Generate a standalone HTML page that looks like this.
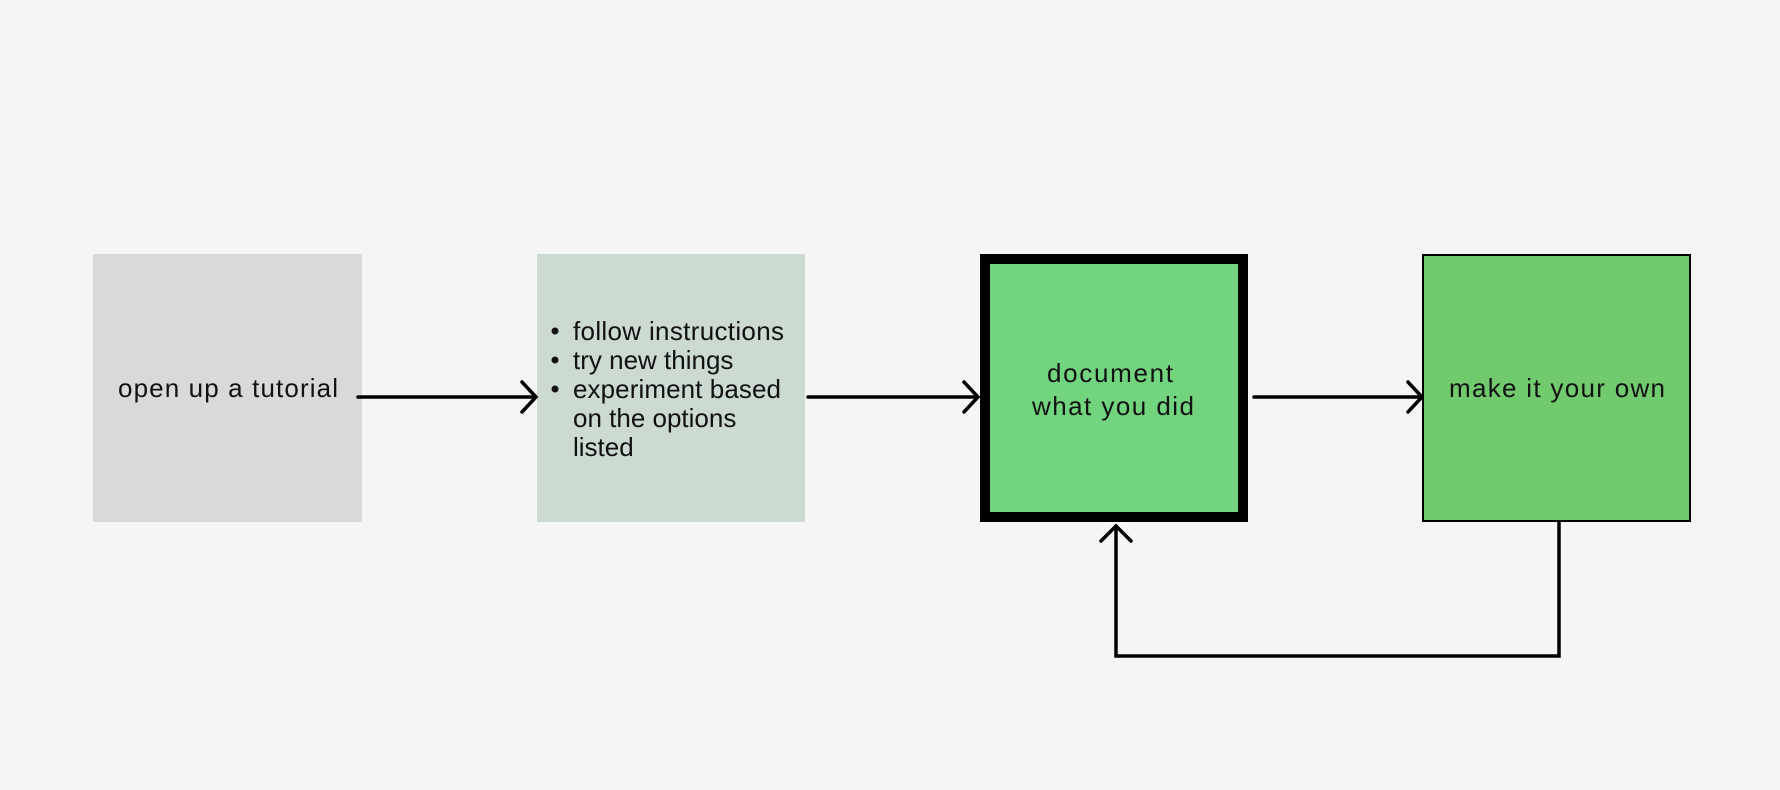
<!DOCTYPE html>
<html><head><meta charset="utf-8"><style>
html,body{margin:0;padding:0;background:#f5f5f5;}
svg{display:block}
text{font-family:"Liberation Sans",sans-serif;font-size:26px;fill:#111}
</style></head><body>
<svg width="1780" height="790" viewBox="0 0 1780 790" xmlns="http://www.w3.org/2000/svg">
<rect width="1780" height="790" fill="#f5f5f5"/>
<rect x="93" y="254" width="269" height="268" fill="#d9d9d9"/>
<rect x="537" y="254" width="268" height="268" fill="#ccdad2"/>
<rect x="985" y="259" width="258" height="258" fill="#72d47e" stroke="#000" stroke-width="10"/>
<rect x="1423" y="255" width="267" height="266" fill="#71ca6e" stroke="#000" stroke-width="2"/>
<text x="228" y="397" text-anchor="middle" textLength="220">open up a tutorial</text>
<g>
<circle cx="555" cy="331" r="3.5" fill="#111"/>
<circle cx="555" cy="360" r="3.5" fill="#111"/>
<circle cx="555" cy="389" r="3.5" fill="#111"/>
<text x="573" y="340" textLength="211">follow instructions</text>
<text x="573" y="369">try new things</text>
<text x="573" y="398" textLength="208">experiment based</text>
<text x="573" y="427">on the options</text>
<text x="573" y="456">listed</text>
</g>
<text x="1110" y="382" text-anchor="middle" textLength="126">document</text>
<text x="1113" y="415" text-anchor="middle" textLength="162">what you did</text>
<text x="1557" y="397" text-anchor="middle" textLength="216">make it your own</text>
<g fill="none" stroke="#000" stroke-width="3.5" stroke-linecap="round" stroke-linejoin="miter">
<line x1="358" y1="397" x2="535" y2="397"/>
<polyline points="522,382 536,397 522,412"/>
<line x1="808" y1="397" x2="977" y2="397"/>
<polyline points="964,382 978,397 964,412"/>
<line x1="1254" y1="397" x2="1421" y2="397"/>
<polyline points="1408,382 1422,397 1408,412"/>
<polyline points="1559,522 1559,656 1116,656 1116,527"/>
<polyline points="1101,541 1116,526 1131,541"/>
</g>
</svg>
</body></html>
